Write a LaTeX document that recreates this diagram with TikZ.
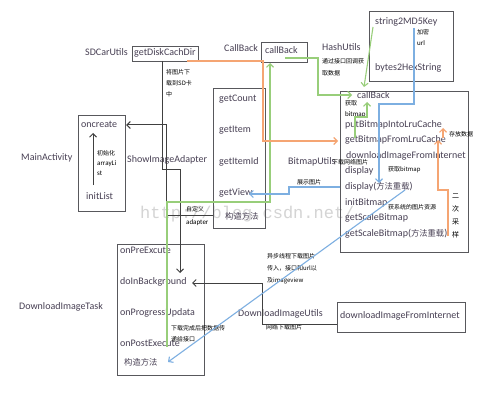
\documentclass[tikz,border=0pt]{standalone}
\usepackage{fontspec}
\setmainfont{Carlito}
\newfontfamily\cjk{Noto Sans CJK SC}
\newfontfamily\wmfont{Liberation Mono}
\usetikzlibrary{arrows.meta}
\definecolor{boxc}{RGB}{88,88,92}
\definecolor{txt}{RGB}{72,64,84}
\definecolor{dk}{RGB}{64,64,64}
\definecolor{gline}{RGB}{152,206,122}
\definecolor{oline}{RGB}{245,165,115}
\definecolor{bline}{RGB}{125,175,225}
\definecolor{wm}{RGB}{212,212,212}
\newcommand{\zh}[1]{{\cjk\fontsize{8.3}{10}\selectfont #1}}
\tikzset{
  boxn/.style={draw=boxc, line width=1.1pt, inner sep=0, anchor=north west},
  item/.style={text=txt, font=\fontsize{10}{12}\selectfont, inner sep=0, anchor=west, text height=7pt, text depth=2pt},
  cjkitem/.style={text=txt, font=\cjk\fontsize{8.3}{10}\selectfont, inner sep=0, anchor=west},
  note/.style={text=black, font=\cjk\fontsize{6}{7}\selectfont, inner sep=0, anchor=west, text height=5pt, text depth=1pt},
  lnote/.style={text=black, font=\fontsize{7}{8}\selectfont, inner sep=0, anchor=west, text height=5pt, text depth=1pt},
  arr/.style={-{Straight Barb[length=3.5pt,width=7pt]}},
  dkl/.style={draw=dk, line width=1pt},
  gl/.style={draw=gline, line width=1.1pt},
  ol/.style={draw=oline, line width=1.1pt},
  bl/.style={draw=bline, line width=1.1pt},
}
\begin{document}
\begin{tikzpicture}[x=1pt,y=-1pt]
\path[use as bounding box, fill=white] (0,0) rectangle (478,406);
% watermark
\node[text=wm, font=\wmfont\fontsize{17}{18}\selectfont, inner sep=0, anchor=west] (wmk) at (140,214) {http://blog.csdn.net/};

% ---- boxes
\node[boxn, minimum width=66pt, minimum height=15pt] (gdcbox) at (132,46) {};
\node[boxn, minimum width=46pt, minimum height=20pt] (cbbox) at (261,42) {};
\node[boxn, minimum width=84pt, minimum height=70pt] (hashbox) at (369,11) {};
\node[boxn, minimum width=128pt, minimum height=161pt] (bmubox) at (340,91) {};
\node[boxn, minimum width=52pt, minimum height=140pt] (adbox) at (213,88) {};
\node[boxn, minimum width=47pt, minimum height=96pt] (mabox) at (78,115) {};
\node[boxn, minimum width=87pt, minimum height=131pt] (dtbox) at (117,244) {};
\node[boxn, minimum width=128pt, minimum height=30pt] (dlbox) at (337,302) {};

% ---- outside labels
\node[item] (sdlbl) at (85,53) {SDCarUtils};
\node[item] (cblbl) at (224,49) {CallBack};
\node[item] (hulbl) at (322,48) {HashUtils};
\node[item] (malbl) at (21,158) {MainActivity};
\node[item] (salbl) at (127,160) {ShowImageAdapter};
\node[item] (bulbl) at (288,162) {BitmapUtils};
\node[item] (dtlbl) at (19,307) {DownloadImageTask};
\node[item] (dulbl) at (238,314) {DownloadImageUtils};

% ---- box contents
\node[item] (gdc) at (134,53.5) {getDiskCachDir};
\node[item] (cb) at (265,51) {callBack};
\node[item] (s2m) at (375,22) {string2MD5Key};
\node[item] (b2h) at (375,68) {bytes2HexString};

\node[item] (cb2) at (357,96) {callBack};
\node[item] (put) at (345,125) {putBitmapIntoLruCache};
\node[item] (getbm) at (345,140) {getBitmapFromLruCache};
\node[item] (dlfi) at (346,155.5) {downloadImageFromInternet};
\node[item] (disp) at (345,171) {display};
\node[item] (disp2) at (345,187) {display(\zh{方法重载})};
\node[item] (initb) at (345,203) {initBitmap};
\node[item] (gsb) at (345,218) {getScaleBitmap};
\node[item] (gsb2) at (345,233.5) {getScaleBitmap(\zh{方法重载})};

\node[item] (gcount) at (219,99) {getCount};
\node[item] (gitem) at (219,130) {getItem};
\node[item] (gitemid) at (219,162) {getItemId};
\node[item] (gview) at (219,193) {getView};
\node[cjkitem] (ctor1) at (225,216) {构造方法};

\node[item] (oncr) at (81,125) {oncreate};
\node[item] (initl) at (86,197) {initList};

\node[item] (onpre) at (120,251) {onPreExcute};
\node[item] (dib) at (120,282) {doInBackground};
\node[item] (onprog) at (120,313) {onProgressUpdata};
\node[item] (onpost) at (120,344) {onPostExecute};
\node[cjkitem] (ctor2) at (124,362) {构造方法};

\node[item] (dlfi2) at (340,316) {downloadImageFromInternet};

% ---- small notes
\node[note] (n1a) at (166,73) {将图片下};
\node[note] (n1b) at (166,84) {载到SD卡};
\node[note] (n1c) at (166,95) {中};
\node[note] (n2a) at (322,62) {通过接口回调获};
\node[note] (n2b) at (322,74) {取数据};
\node[note] (n3a) at (417,33) {加密};
\node[lnote] (n3b) at (417,44) {url};
\node[note] (n4a) at (345,104) {获取};
\node[lnote] (n4b) at (345,115) {bitmap};
\node[note] (n5) at (449,134) {存放数据};
\node[note] (n6) at (332,162) {下载网络图片};
\node[note] (n7) at (388,169) {获取bitmap};
\node[note] (n8) at (388,207) {获系统的图片资源};
\node[note, font=\cjk\fontsize{7}{8}\selectfont] (n9a) at (452,196) {二};
\node[note, font=\cjk\fontsize{7}{8}\selectfont] (n9b) at (452,209) {次};
\node[note, font=\cjk\fontsize{7}{8}\selectfont] (n9c) at (452,222) {采};
\node[note, font=\cjk\fontsize{7}{8}\selectfont] (n9d) at (452,235) {样};
\node[note] (n10) at (297,182) {展示图片};
\node[note] (n11a) at (97,153) {初始化};
\node[lnote] (n11b) at (97,163) {arrayLi};
\node[lnote] (n11c) at (97,173) {st};
\node[note] (n12a) at (186,209) {自定义};
\node[lnote] (n12b) at (186,222) {adapter};
\node[note] (n13a) at (267,256) {异步线程下载图片};
\node[note] (n13b) at (267,268) {传入，接口和url以};
\node[note] (n13c) at (267,280) {及imageview};
\node[note] (n14a) at (171,328) {下载完成后把数据传};
\node[note] (n14b) at (171,339) {递给接口};
\node[note] (n15) at (266,327) {网络下载图片};

% ---- connectors: dark
\draw[dkl,arr] (162,61) |- (180,169) -- (180,273);
\draw[dkl,arr] (adbox.west |- 0,215) -| (166,125) -- (mabox.east |- 0,125);
\draw[dkl,arr] (dlbox.west |- 0,324) -| (262,283) -- (192,283);
\draw[dkl,arr] (93,185) -- (93,133);

% ---- green
\draw[gl,arr] (167,347) -- (167,202) -| (270,63);
\draw[gl,arr] (285,58) -| (318,95) -- (352,95);
\draw[gl,arr] (373,27) -- (364,87);
\draw[gl,arr] (355,138) |- (367,117) -- (367,102);

% ---- orange
\draw[ol,arr] (187,61) -- (263,61) |- (338,141);
\draw[ol,arr] (448,236) |- (438,190) -- (438,140);
\draw[ol,arr] (443,138) -- (443,128);

% ---- blue
\draw[bl,arr] (340,187) -- (289,187) |- (249,194);
\draw[bl,arr] (414,28) |- (379,104) -- (379,183);
\draw[bl,arr] (405,190) -- (168,362);
\end{tikzpicture}
\end{document}
